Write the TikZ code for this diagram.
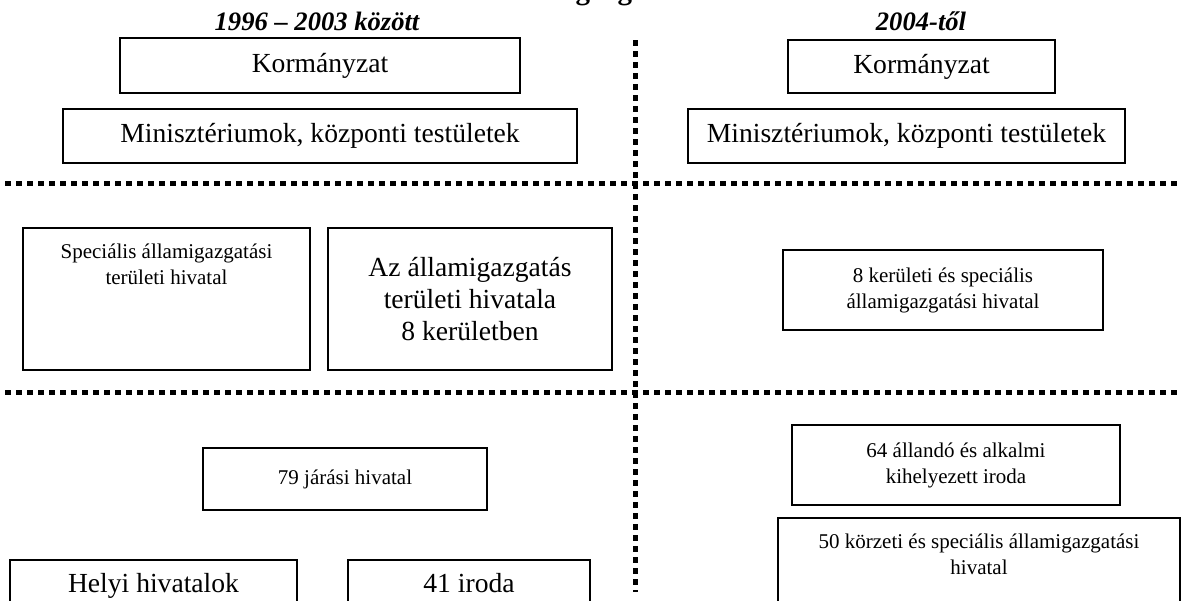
\documentclass[tikz,border=0pt]{standalone}
\usepackage{fontspec}
\setmainfont{Liberation Serif}
\usetikzlibrary{positioning}

\tikzset{
  doboz/.style={draw, line width=0.8pt, inner sep=0pt, align=center},
  nagy/.style={font=\fontsize{13.8}{16}\selectfont},
  kicsi/.style={font=\fontsize{10.5}{13}\selectfont},
  alcim/.style={font=\fontsize{13.3}{16}\selectfont\bfseries\itshape},
  pontvonal/.style={line width=2.5pt, dash pattern=on 3pt off 2.5pt},
}

\begin{document}
\begin{tikzpicture}[x=0.5pt, y=-0.5pt]
    \useasboundingbox (0,0) rectangle (1182,600);
    \clip (0,0) rectangle (1182,600);
    %%Cím
    \node[font=\fontsize{14.5}{17}\selectfont\bfseries, anchor=base] (cim) at (636,-1) {Az államigazgatás szervezete};
    \node[alcim] (regi) at (317,21) {1996 – 2003 között};
    \node[alcim] (uj) at (921,21) {2004-től};
    %%Elválasztó vonalak
    \draw[pontvonal] (5,183) -- (1182,183);
    \draw[pontvonal] (5,392) -- (1182,392);
    \draw[pontvonal] (635,40) -- (635,592);
    %%Központi szint
    \node[doboz, nagy, minimum width=200pt, minimum height=27.5pt] (kormL) at (320,65.5) {Kormányzat};
    \node[doboz, nagy, minimum width=257pt, minimum height=27pt] (minL) at (320,136) {Minisztériumok, központi testületek};
    \node[doboz, nagy, minimum width=133.5pt, minimum height=26.5pt] (kormR) at (921.5,66.5) {Kormányzat};
    \node[doboz, nagy, minimum width=218.5pt, minimum height=27pt] (minR) at (906.5,136) {Minisztériumok, központi testületek};
    %%Területi szint
    \node[doboz, minimum width=143.5pt, minimum height=71pt] (specL) at (166.5,299) {};
    \node[kicsi, align=center, below=5pt of specL.north] (specLtext) {Speciális államigazgatási\\területi hivatal};
    \node[doboz, nagy, minimum width=142pt, minimum height=71pt] (terL) at (470,299) {Az államigazgatás\\területi hivatala\\8 kerületben};
    \node[doboz, kicsi, minimum width=160pt, minimum height=40pt] (kerR) at (943,290) {8 kerületi és speciális\\államigazgatási hivatal};
    %%Helyi szint
    \node[doboz, kicsi, minimum width=142pt, minimum height=31pt] (jarasL) at (345,479) {79 járási hivatal};
    \node[doboz, minimum width=143.5pt, minimum height=40pt] (helyiL) at (153.5,600) {};
    \node[nagy, below=3.5pt of helyiL.north] (helyiLtext) {Helyi hivatalok};
    \node[doboz, minimum width=121pt, minimum height=40pt] (irodaL) at (469,600) {};
    \node[nagy, below=3.5pt of irodaL.north] (irodaLtext) {41 iroda};
    \node[doboz, kicsi, minimum width=164pt, minimum height=40pt] (allR) at (956,465) {64 állandó és alkalmi\\kihelyezett iroda};
    \node[doboz, minimum width=201pt, minimum height=50pt] (korzR) at (979,568) {};
    \node[kicsi, align=center, below=5pt of korzR.north] (korzRtext) {50 körzeti és speciális államigazgatási\\hivatal};
\end{tikzpicture}
\end{document}
